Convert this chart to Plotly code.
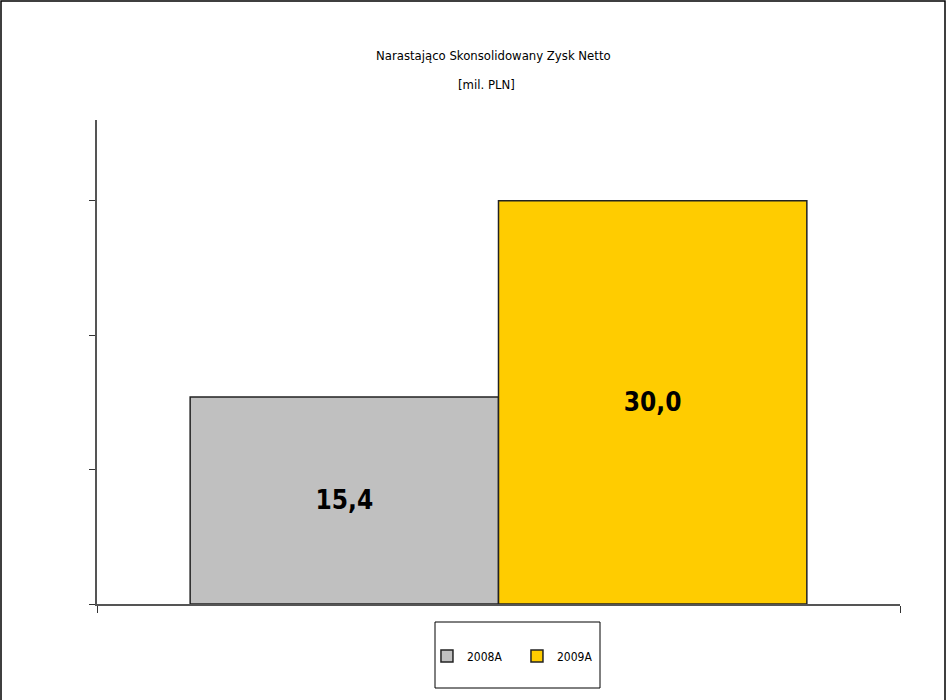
import plotly.graph_objects as go

series_names = ["2008A", "2009A"]
values = [15.4, 30.0]
colors = ["#C0C0C0", "#FFCC00"]
title_lines = ["Narastająco Skonsolidowany Zysk Netto", "[mil. PLN]"]

FONT = "DejaVu Sans Condensed, Liberation Sans Narrow, Arial Narrow, Liberation Sans, sans-serif"

W, H = 947, 700
L, R, T, B = 97, 900, 120, 604

def px_x(px):
    return (px - L) / (R - L)

def px_y(py):
    return (B - py) / (B - T)

fig = go.Figure()
for name, v, c in zip(series_names, values, colors):
    fig.add_trace(go.Bar(
        x=[0], y=[v], name=name,
        marker=dict(color=c, line=dict(color="#222222", width=1.5)),
        texttemplate="%{y:.1f}", textposition="inside", insidetextanchor="middle",
        textfont=dict(family=FONT, size=26, color="black", weight="bold"),
        hoverinfo="skip",
    ))

fig.update_layout(
    width=W, height=H,
    margin=dict(l=L, r=W - R, t=T, b=H - B, autoexpand=False),
    paper_bgcolor="white", plot_bgcolor="white",
    barmode="group", bargap=0.232, bargroupgap=0,
    separators=", ",
    font=dict(family=FONT, size=13, color="black"),
    showlegend=True,
    legend=dict(orientation="h", x=0.523, xanchor="center", y=px_y(656), yanchor="middle",
                bgcolor="rgba(0,0,0,0)", borderwidth=0, font=dict(family=FONT, size=12),
                entrywidth=45),
    xaxis=dict(range=[-0.5, 0.5], showgrid=False, zeroline=False, showline=True,
               linecolor="#555555", linewidth=2, ticks="outside", ticklen=7,
               tickcolor="#333333", tickvals=[-0.5, 0.5], ticktext=["", ""],
               fixedrange=True),
    yaxis=dict(range=[0, 36], showgrid=False, zeroline=False, showline=True,
               linecolor="#555555", linewidth=2, ticks="outside", ticklen=6,
               tickcolor="#333333", tickmode="linear", tick0=0, dtick=10,
               showticklabels=False, fixedrange=True),
    shapes=[
        dict(type="rect", xref="paper", yref="paper",
             x0=px_x(1), x1=px_x(945), y0=px_y(703), y1=px_y(1),
             line=dict(color="black", width=1.5), fillcolor="rgba(0,0,0,0)", layer="below"),
        dict(type="rect", xref="paper", yref="paper",
             x0=px_x(435), x1=px_x(600), y0=px_y(688), y1=px_y(622),
             line=dict(color="black", width=1), fillcolor="rgba(0,0,0,0)"),
    ],
    annotations=[
        dict(text=title_lines[0], xref="paper", yref="paper", x=px_x(493), y=px_y(55),
             showarrow=False, xanchor="center", yanchor="middle",
             font=dict(family=FONT, size=13)),
        dict(text=title_lines[1], xref="paper", yref="paper", x=px_x(486), y=px_y(85),
             showarrow=False, xanchor="center", yanchor="middle",
             font=dict(family=FONT, size=13)),
    ],
)

fig.write_html("out.html", config={"displayModeBar": False},
               post_script="document.body.style.margin='0';document.body.style.padding='0';")
